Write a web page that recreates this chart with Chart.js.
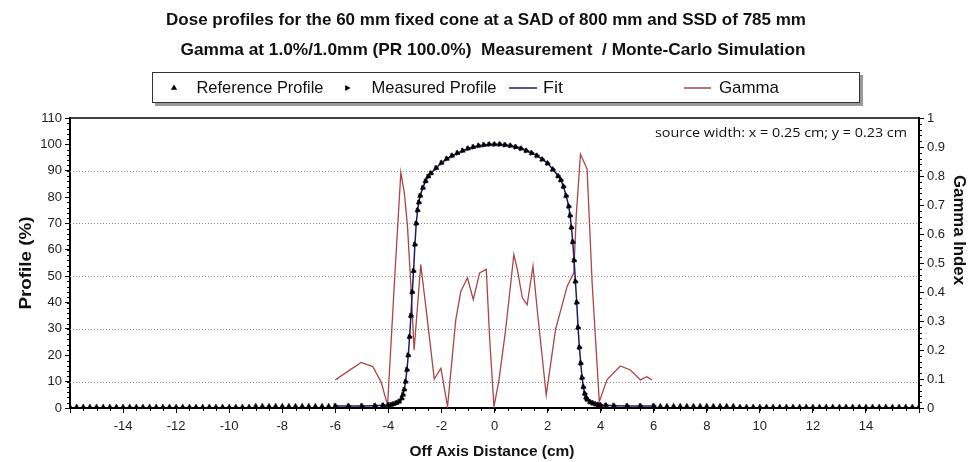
<!DOCTYPE html>
<html>
<head>
<meta charset="utf-8">
<script src="https://cdn.jsdelivr.net/npm/chart.js@4.4.1/dist/chart.umd.min.js"></script>
<style>
  html, body { margin: 0; padding: 0; background: #fff; }
  #wrap { width: 971px; height: 462px; }
</style>
</head>
<body>
<div id="wrap"><canvas id="doseChart" width="971" height="462"></canvas></div>
<script>
// reference profile, outer tails (only reference points there)
const outerLeftX = [-16, -15.75, -15.5, -15.25, -15, -14.75, -14.5, -14.25, -14, -13.75, -13.5, -13.25, -13, -12.75, -12.5, -12.25, -12, -11.75, -11.5, -11.25, -11, -10.75, -10.5, -10.25, -10, -9.75, -9.5, -9.25, -9, -8.75, -8.5, -8.25, -8, -7.75, -7.5, -7.25, -7, -6.75, -6.5, -6.25];
const outerLeftRef = [0.4, 0.4, 0.4, 0.4, 0.4, 0.4, 0.4, 0.4, 0.4, 0.4, 0.4, 0.4, 0.4, 0.4, 0.4, 0.4, 0.4, 0.4, 0.4, 0.4, 0.4, 0.4, 0.4, 0.4, 0.4, 0.4, 0.4, 0.4, 0.7, 0.7, 0.7, 0.7, 0.7, 0.7, 0.7, 0.7, 0.7, 0.7, 0.7, 0.7];
const outerRightX = [6.25, 6.5, 6.75, 7, 7.25, 7.5, 7.75, 8, 8.25, 8.5, 8.75, 9, 9.25, 9.5, 9.75, 10, 10.25, 10.5, 10.75, 11, 11.25, 11.5, 11.75, 12, 12.25, 12.5, 12.75, 13, 13.25, 13.5, 13.75, 14, 14.25, 14.5, 14.75, 15, 15.25, 15.5, 15.75, 16];
const outerRightRef = [0.7, 0.7, 0.7, 0.7, 0.7, 0.7, 0.7, 0.7, 0.7, 0.7, 0.7, 0.7, 0.4, 0.4, 0.4, 0.4, 0.4, 0.4, 0.4, 0.4, 0.4, 0.4, 0.4, 0.4, 0.4, 0.4, 0.4, 0.4, 0.4, 0.4, 0.4, 0.4, 0.4, 0.4, 0.4, 0.4, 0.4, 0.4, 0.4, 0.4];

// central part -6..6 (reference, measured and fit)
const coreX = [-6, -5.5, -5, -4.5, -4.2, -4, -3.9, -3.8, -3.7, -3.6, -3.5, -3.45, -3.4, -3.35, -3.3, -3.25, -3.2, -3.15, -3.1, -3.05, -3, -2.95, -2.9, -2.85, -2.8, -2.7, -2.6, -2.5, -2.4, -2.2, -2, -1.8, -1.6, -1.4, -1.2, -1, -0.8, -0.6, -0.4, -0.2, 0,
  0.2, 0.4, 0.6, 0.8, 1, 1.2, 1.4, 1.6, 1.8, 2, 2.2, 2.4, 2.5, 2.6, 2.7, 2.8, 2.85, 2.9, 2.95, 3, 3.05, 3.1, 3.15, 3.2, 3.25, 3.3, 3.35, 3.4, 3.45, 3.5, 3.6, 3.7, 3.8, 3.9, 4, 4.2, 4.5, 5, 5.5, 6];
const coreProfile = [0.8, 0.8, 0.8, 0.9, 1.0, 1.1, 1.2, 1.5, 1.9, 2.4, 3.6, 5, 7, 10, 14.5, 20, 27, 35, 44, 52, 62, 70, 75, 78, 80.5, 83.5, 86, 87.8, 89, 91, 93, 94.5, 95.7, 96.7, 97.6, 98.4, 99, 99.5, 99.8, 100, 100,
  100, 99.8, 99.5, 99, 98.4, 97.6, 96.7, 95.7, 94.3, 92.8, 90.5, 88, 86.5, 84, 80.5, 76.5, 73, 68.5, 63, 56, 48, 40, 30.5, 23, 17, 11.5, 8, 5.5, 4, 3.2, 2.3, 1.9, 1.5, 1.2, 1.1, 1.0, 0.9, 0.8, 0.8, 0.8];

// gamma index (right axis)
const gammaX = [-6.0, -5.03, -4.59, -4.28, -4.03, -3.78, -3.53, -3.40, -3.28, -3.15, -3.03, -2.78, -2.53, -2.27, -2.02, -1.77, -1.46, -1.27, -1.02, -0.80, -0.56, -0.31, -0.18, -0.02,
  0.17, 0.42, 0.73, 0.86, 1.05, 1.23, 1.45, 1.61, 1.95, 2.30, 2.74, 2.99, 3.08, 3.24, 3.49, 3.68, 3.95, 4.24, 4.74, 5.12, 5.50, 5.74, 5.93];
const gammaY = [0.097, 0.157, 0.143, 0.091, 0.01, 0.42, 0.812, 0.743, 0.627, 0.42, 0.20, 0.495, 0.304, 0.10, 0.137, 0.005, 0.304, 0.402, 0.449, 0.374, 0.466, 0.478, 0.235, 0.005,
  0.097, 0.27, 0.529, 0.478, 0.38, 0.356, 0.489, 0.339, 0.045, 0.27, 0.42, 0.466, 0.662, 0.875, 0.824, 0.431, 0.022, 0.097, 0.145, 0.131, 0.097, 0.108, 0.097];

const gridValues = [10, 30, 50, 70, 90];

const titleLine1 = 'Dose profiles for the 60 mm fixed cone at a SAD of 800 mm and SSD of 785 mm';
const titleLine2 = 'Gamma at 1.0%/1.0mm (PR 100.0%)  Measurement  / Monte-Carlo Simulation';
const noteText = 'source width: x = 0.25 cm; y = 0.23 cm';

const FIT_COLOR = '#1c1c6a';
const GAMMA_COLOR = '#ac4545';

function pairs(xs, ys) {
    return xs.map((x, i) => ({ x: x, y: ys[i] }));
}

const refPoints = pairs(outerLeftX, outerLeftRef)
    .concat(pairs(coreX, coreProfile))
    .concat(pairs(outerRightX, outerRightRef));

// text squeezed/stretched horizontally to a given width (narrow look of the original)
function fitText(ctx, text, cx, cy, w, font, rot) {
    ctx.save();
    ctx.font = font;
    const m = ctx.measureText(text).width;
    ctx.translate(cx, cy);
    if (rot) ctx.rotate(rot);
    ctx.scale(w / m, 1);
    ctx.textAlign = 'center';
    ctx.textBaseline = 'middle';
    ctx.fillStyle = '#111';
    ctx.fillText(text, 0, 0);
    ctx.restore();
}

const decor = {
    id: 'decor',
    beforeDatasetsDraw(chart) {
        const ctx = chart.ctx, a = chart.chartArea, y = chart.scales.y;
        ctx.save();
        ctx.strokeStyle = '#8c8c8c';
        ctx.lineWidth = 1;
        ctx.setLineDash([1, 2]);
        gridValues.forEach(v => {
            const py = Math.round(y.getPixelForValue(v)) + 0.5;
            ctx.beginPath();
            ctx.moveTo(a.left, py);
            ctx.lineTo(a.right, py);
            ctx.stroke();
        });
        ctx.restore();
    },
    afterDraw(chart) {
        const ctx = chart.ctx, a = chart.chartArea;
        const sx = chart.scales.x, sy = chart.scales.y, sg = chart.scales.y2;

        ctx.save();
        // top of frame
        ctx.strokeStyle = '#000';
        ctx.lineWidth = 1.5;
        ctx.beginPath();
        ctx.moveTo(a.left, a.top);
        ctx.lineTo(a.right, a.top);
        ctx.stroke();

        // minor ticks
        ctx.lineWidth = 1;
        ctx.beginPath();
        for (let v = -16; v <= 16; v += 0.5) {
            const px = Math.round(sx.getPixelForValue(v)) + 0.5;
            ctx.moveTo(px, a.bottom);
            ctx.lineTo(px, a.bottom + 3);
        }
        for (let v = 0; v <= 110; v += 2) {
            const py = Math.round(sy.getPixelForValue(v)) + 0.5;
            ctx.moveTo(a.left, py);
            ctx.lineTo(a.left - 3, py);
        }
        for (let v = 0; v <= 100; v += 2) {
            const py = Math.round(sg.getPixelForValue(v / 100)) + 0.5;
            ctx.moveTo(a.right, py);
            ctx.lineTo(a.right + 3, py);
        }
        ctx.stroke();
        ctx.restore();

        // titles
        fitText(ctx, titleLine1, 486, 20, 640, 'bold 17px "Liberation Sans"');
        fitText(ctx, titleLine2, 493, 50, 625, 'bold 17px "Liberation Sans"');

        // axis titles
        fitText(ctx, 'Profile (%)', 27, 263, 93, 'bold 16px "Liberation Sans"', -Math.PI / 2);
        fitText(ctx, 'Gamma Index', 958, 230, 110, 'bold 16px "Liberation Sans"', Math.PI / 2);
        fitText(ctx, 'Off Axis Distance (cm)', 492, 452, 165, 'bold 15px "Liberation Sans"');

        // note in plot
        fitText(ctx, noteText, 781, 133, 252, '13px "Open Sans"');

        // legend box with shadow
        ctx.save();
        ctx.fillStyle = '#9a9a9a';
        ctx.fillRect(155, 75, 708, 31);
        ctx.fillStyle = '#fff';
        ctx.fillRect(152, 72, 708, 31);
        ctx.strokeStyle = '#333';
        ctx.lineWidth = 1;
        ctx.strokeRect(152.5, 72.5, 707, 30);

        const ly = 88;
        ctx.fillStyle = '#000';
        Chart.helpers.drawPoint(ctx, { pointStyle: 'triangle', radius: 3.6, rotation: 0, borderWidth: 0 }, 174, ly);
        Chart.helpers.drawPoint(ctx, { pointStyle: 'triangle', radius: 3.6, rotation: 90, borderWidth: 0 }, 347, ly);
        ctx.lineWidth = 1.5;
        ctx.strokeStyle = FIT_COLOR;
        ctx.beginPath();
        ctx.moveTo(509, ly);
        ctx.lineTo(537, ly);
        ctx.stroke();
        ctx.strokeStyle = GAMMA_COLOR;
        ctx.beginPath();
        ctx.moveTo(684, ly);
        ctx.lineTo(711, ly);
        ctx.stroke();
        ctx.restore();

        fitText(ctx, 'Reference Profile', 260, ly, 127, '17px "Liberation Sans"');
        fitText(ctx, 'Measured Profile', 434, ly, 125, '17px "Liberation Sans"');
        fitText(ctx, 'Fit', 553, ly, 20, '17px "Liberation Sans"');
        fitText(ctx, 'Gamma', 749, ly, 60, '17px "Liberation Sans"');
    }
};

const tickFont = { family: 'Liberation Sans', size: 13 };

const ctx = document.getElementById('doseChart').getContext('2d');
const doseChart = new Chart(ctx, {
    type: 'scatter',
    data: {
        datasets: [{
            label: 'Reference Profile',
            data: refPoints,
            pointStyle: 'triangle',
            pointRadius: 3,
            pointBackgroundColor: '#000',
            pointBorderColor: '#000',
            pointBorderWidth: 0.5,
            showLine: false,
            yAxisID: 'y',
            order: 1
        }, {
            label: 'Measured Profile',
            data: pairs(coreX, coreProfile),
            pointStyle: 'triangle',
            rotation: 90,
            pointRadius: 2.8,
            pointBackgroundColor: '#14143a',
            pointBorderColor: '#14143a',
            pointBorderWidth: 0.5,
            showLine: false,
            yAxisID: 'y',
            order: 2
        }, {
            label: 'Fit',
            data: pairs(coreX, coreProfile),
            showLine: true,
            borderColor: FIT_COLOR,
            borderWidth: 1.5,
            pointRadius: 0,
            tension: 0,
            yAxisID: 'y',
            order: 3
        }, {
            label: 'Gamma',
            data: pairs(gammaX, gammaY),
            showLine: true,
            borderColor: GAMMA_COLOR,
            borderWidth: 1.3,
            pointRadius: 0,
            tension: 0,
            yAxisID: 'y2',
            order: 4
        }]
    },
    options: {
        responsive: false,
        animation: false,
        devicePixelRatio: 1,
        layout: { padding: { top: 118, left: 0, right: 0, bottom: 0 } },
        plugins: {
            legend: { display: false },
            title: { display: false },
            tooltip: { enabled: false }
        },
        scales: {
            x: {
                type: 'linear',
                min: -16,
                max: 16,
                ticks: {
                    stepSize: 2,
                    color: '#222',
                    font: tickFont,
                    padding: 6,
                    maxRotation: 0,
                    callback: v => (v === -16 || v === 16) ? '' : v
                },
                grid: { drawOnChartArea: false, tickLength: 5, tickColor: '#000' },
                border: { color: '#000', width: 2 },
                afterFit: s => { s.height = 54; }
            },
            y: {
                position: 'left',
                min: 0,
                max: 110,
                ticks: { stepSize: 10, color: '#222', font: tickFont, padding: 3 },
                grid: { drawOnChartArea: false, tickLength: 5, tickColor: '#000' },
                border: { color: '#000', width: 2 },
                afterFit: s => { s.width = 70; }
            },
            y2: {
                position: 'right',
                min: 0,
                max: 1,
                ticks: {
                    stepSize: 0.1,
                    color: '#222',
                    font: tickFont,
                    padding: 3,
                    callback: v => +v.toFixed(1)
                },
                grid: { drawOnChartArea: false, tickLength: 5, tickColor: '#000' },
                border: { color: '#000', width: 2 },
                afterFit: s => { s.width = 52; }
            }
        }
    },
    plugins: [decor]
});
</script>
</body>
</html>
